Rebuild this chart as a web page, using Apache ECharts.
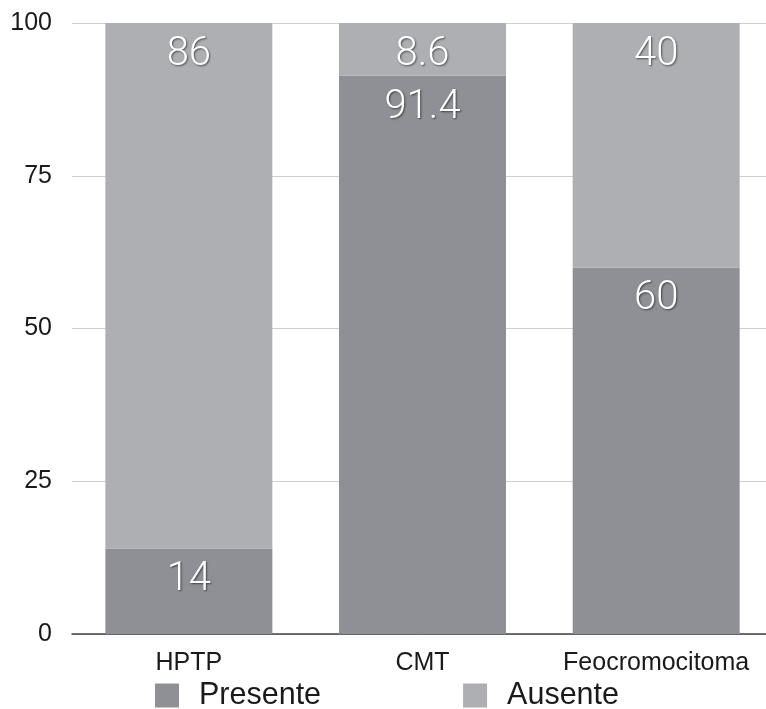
<!DOCTYPE html>
<html>
<head>
<meta charset="utf-8">
<script src="https://cdn.jsdelivr.net/npm/echarts@6/dist/echarts.min.js"></script>
<style>
  html, body { margin: 0; padding: 0; background: #fff; }
  #chart { width: 766px; height: 709px; }
</style>
</head>
<body>
<div id="chart"></div>
<script>
// Categories and stacked percentages
const categories = ['HPTP', 'CMT', 'Feocromocitoma'];
const presente = [14, 91.4, 60];
const ausente = [86, 8.6, 40];
const yTicks = [0, 25, 50, 75, 100];

const FONT = '"Liberation Sans", Arial, sans-serif';

const barLabel = {
  show: true,
  position: 'insideTop',
  distance: 12,
  color: '#ffffff',
  fontFamily: 'Roboto, "Liberation Sans", sans-serif',
  fontWeight: 300,
  fontSize: 40,
  lineHeight: 40,
  textShadowColor: 'rgba(0,0,0,0.55)',
  textShadowBlur: 2,
  textShadowOffsetX: 1,
  textShadowOffsetY: 1
};

const chart = echarts.init(document.getElementById('chart'));
chart.setOption({
  animation: false,
  backgroundColor: '#ffffff',
  // plot band runs slightly past the right edge of the canvas
  grid: {
    left: 72, width: 701, top: 23, bottom: 75,
    containLabel: false,
    outerBoundsMode: 'none'
  },
  legend: {
    left: 155,
    top: 680,
    padding: 0,
    itemWidth: 24,
    itemHeight: 24,
    itemGap: 142,
    icon: 'rect',
    textStyle: {
      fontFamily: FONT,
      fontSize: 30.5,
      color: '#1a1a1a',
      padding: [0, 0, 0, 15]
    },
    data: ['Presente', 'Ausente']
  },
  xAxis: {
    type: 'category',
    data: categories,
    axisTick: { show: false },
    axisLine: { show: true, lineStyle: { color: '#444', width: 1.5 } },
    axisLabel: {
      interval: 0,
      color: '#1a1a1a',
      fontFamily: FONT,
      fontSize: 25,
      margin: 17
    }
  },
  yAxis: {
    type: 'value',
    min: yTicks[0],
    max: yTicks[yTicks.length - 1],
    interval: 25,
    axisLine: { show: false },
    axisTick: { show: false },
    splitLine: { show: true, lineStyle: { color: '#cfcfcf', width: 1 } },
    axisLabel: {
      color: '#1a1a1a',
      fontFamily: FONT,
      fontSize: 25,
      margin: 20
    }
  },
  series: [
    {
      name: 'Presente',
      type: 'bar',
      stack: 'total',
      barWidth: 167,
      data: presente,
      itemStyle: { color: '#8e9095' },
      label: barLabel
    },
    {
      name: 'Ausente',
      type: 'bar',
      stack: 'total',
      barWidth: 167,
      data: ausente,
      itemStyle: { color: '#aeafb3' },
      label: barLabel
    }
  ]
});
</script>
</body>
</html>
